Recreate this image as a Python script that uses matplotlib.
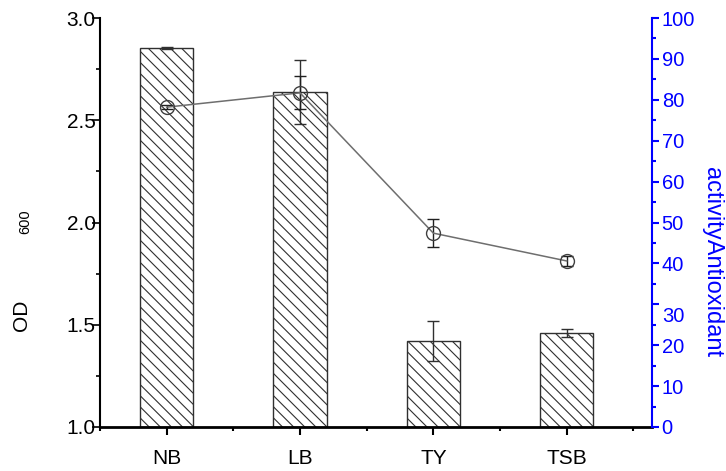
import matplotlib
matplotlib.use("Agg")
import matplotlib.pyplot as plt
import matplotlib.transforms as mtransforms
from matplotlib.ticker import MultipleLocator, FormatStrFormatter
import numpy as np

plt.rcParams['font.family'] = ['Liberation Sans', 'DejaVu Sans']
plt.rcParams['hatch.linewidth'] = 0.8

categories = ["NB", "LB", "TY", "TSB"]
od600 = [2.855, 2.638, 1.421, 1.460]
od600_err = [0.005, 0.155, 0.098, 0.02]
antioxidant = [78.2, 81.7, 47.4, 40.6]
antioxidant_err = [0.5, 4.0, 3.4, 1.2]

fig = plt.figure(figsize=(7.26, 4.71), dpi=100)
ax = fig.add_axes([100/726, 1-427/471, 552/726, 409/471])
x = np.arange(1, len(categories) + 1)

ax.bar(x, [v - 1.0 for v in od600], bottom=1.0, width=0.4, color='white',
       edgecolor='#303030', linewidth=1.0, hatch='\\\\\\', zorder=2)
ax.errorbar(x, od600, yerr=od600_err, fmt='none', ecolor='#303030',
            elinewidth=1.0, capsize=4, capthick=1.0, zorder=3)

ax.set_xlim(0.5, 4.64)
ax.set_ylim(1.0, 3.0)
ax.set_xticks(x)
ax.set_xticklabels(categories)
ax.xaxis.set_minor_locator(MultipleLocator(0.5))
ax.yaxis.set_major_locator(MultipleLocator(0.5))
ax.yaxis.set_minor_locator(MultipleLocator(0.25))
ax.yaxis.set_major_formatter(FormatStrFormatter('%.1f'))
ax.spines['top'].set_visible(False)
ax.spines['right'].set_visible(False)
ax.spines['bottom'].set_linewidth(2.0)
ax.spines['left'].set_linewidth(1.5)
ax.tick_params(axis='y', which='major', direction='out', length=6, width=1.2,
               labelsize=15, pad=-3)
ax.tick_params(axis='y', which='minor', direction='out', length=3, width=1.2)
ax.tick_params(axis='x', which='major', direction='out', length=6, width=1.5,
               labelsize=15, pad=10)
ax.tick_params(axis='x', which='minor', direction='out', length=3, width=1.5)

ax2 = ax.twinx()
ax2.set_ylim(0, 100)
ax2.errorbar(x, antioxidant, yerr=antioxidant_err, fmt='none', ecolor='#202020',
             elinewidth=1.0, capsize=4, capthick=1.0, zorder=3)
ax2.plot(x, antioxidant, color='#6e6e6e', linewidth=1.1, marker='o',
         markersize=10, markerfacecolor='none', markeredgecolor='#404040',
         markeredgewidth=1.0, zorder=4)
for s in ['top', 'left', 'bottom']:
    ax2.spines[s].set_visible(False)
ax2.spines['right'].set_color('blue')
ax2.spines['right'].set_linewidth(1.5)
ax2.yaxis.set_major_locator(MultipleLocator(10))
ax2.yaxis.set_minor_locator(MultipleLocator(5))
ax2.tick_params(axis='y', which='major', colors='blue', direction='out',
                length=5, width=1.5, labelsize=14.5, pad=2)
ax2.tick_params(axis='y', which='minor', colors='blue', direction='out',
                length=3, width=1.5)
ax2.set_ylabel("activityAntioxidant", color='blue', fontsize=17,
               rotation=270, va='center', ha='center')
ax2.yaxis.set_label_coords((712-100)/552, (427-262)/409)
fig.canvas.draw()
for lab in ax2.get_yticklabels():
    if lab.get_text() == '30':
        lab.set_transform(lab.get_transform() +
                          mtransforms.ScaledTranslation(0, -10/100, fig.dpi_scale_trans))

fig.text(22/726, 1-315/471, "OD", rotation=90, fontsize=15, ha='center', va='center')
fig.text(25/726, 1-222/471, "600", rotation=90, fontsize=10.5, ha='center', va='center')

fig.savefig("out.png", dpi=100)
